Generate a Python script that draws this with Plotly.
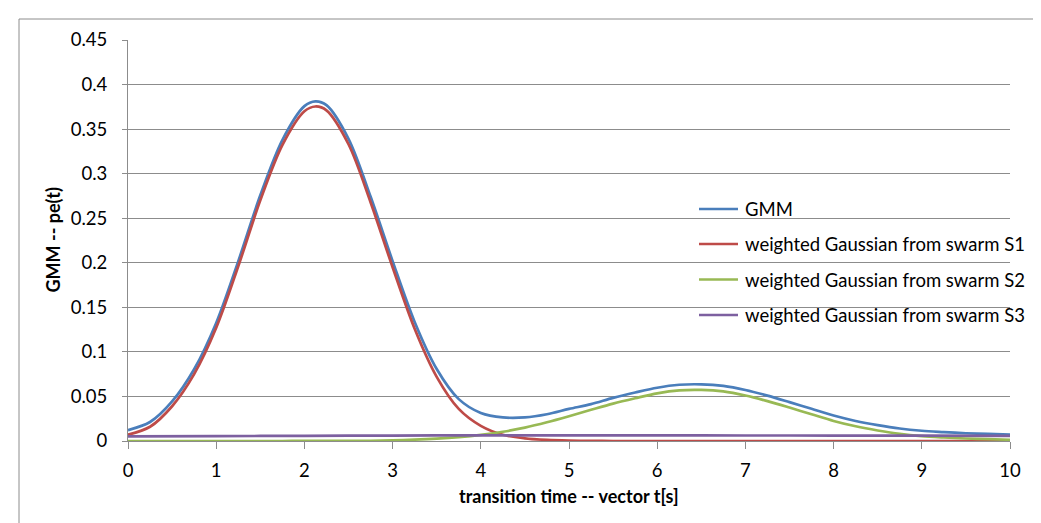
import plotly.graph_objects as go

# ---- data ----
t = [0, 0.25, 0.5, 0.75, 1, 1.25, 1.5, 1.75, 2, 2.125, 2.25, 2.5, 2.75, 3, 3.25, 3.5, 3.75,
     4, 4.25, 4.5, 4.75, 5, 5.25, 5.5, 5.75, 6, 6.25, 6.5, 6.75, 7, 7.25, 7.5, 7.75,
     8, 8.25, 8.5, 8.75, 9, 9.25, 9.5, 9.75, 10]

gmm = [0.0122, 0.0213, 0.0444, 0.0805, 0.1325, 0.2016, 0.2757, 0.3377, 0.3758, 0.3812, 0.3769,
       0.3391, 0.2743, 0.2019, 0.1336, 0.0808, 0.0470, 0.0315, 0.0265, 0.0265, 0.0300,
       0.0360, 0.0414, 0.0484, 0.0544, 0.0598, 0.0631, 0.0636, 0.0618, 0.0572, 0.0509,
       0.0436, 0.0361, 0.0286, 0.0225, 0.0178, 0.0140, 0.0115, 0.0100, 0.0087, 0.0079,
       0.0072]

s1 = [0.007, 0.016, 0.039, 0.075, 0.127, 0.196, 0.270, 0.332, 0.370, 0.3754, 0.371,
      0.333, 0.268, 0.195, 0.126, 0.072, 0.036, 0.017, 0.007, 0.003, 0.0012,
      0.0004, 0.0001, 0, 0, 0, 0, 0, 0, 0, 0,
      0, 0, 0, 0, 0, 0, 0, 0, 0, 0,
      0]

s2 = [0, 0, 0, 0, 0, 0, 0, 0, 0.0001, 0.0001, 0.0001,
      0.0002, 0.0003, 0.0008, 0.0015, 0.0026, 0.0043, 0.0068, 0.0104, 0.0150, 0.0210,
      0.0278, 0.0350, 0.0420, 0.0480, 0.0535, 0.0568, 0.0573, 0.0556, 0.0510, 0.0447,
      0.0375, 0.0300, 0.0225, 0.0165, 0.0118, 0.0080, 0.0055, 0.0040, 0.0028, 0.0020,
      0.0014]

t3 = [0, 1, 2, 3, 4, 5, 6, 7, 8, 9, 10]
s3 = [0.0052, 0.0055, 0.0058, 0.0061, 0.0063, 0.0064, 0.0063, 0.0062, 0.0061, 0.0060, 0.0058]

names = ["GMM", "weighted Gaussian from swarm S1",
         "weighted Gaussian from swarm S2", "weighted Gaussian from swarm S3"]
colors = ["#4A7EBB", "#BE4B48", "#98B954", "#7D60A0"]

x_ticks = [0, 1, 2, 3, 4, 5, 6, 7, 8, 9, 10]
y_ticks = [0, 0.05, 0.1, 0.15, 0.2, 0.25, 0.3, 0.35, 0.4, 0.45]
y_labels = ["0", "0.05", "0.1", "0.15", "0.2", "0.25", "0.3", "0.35", "0.4", "0.45"]

x_title = "transition time -- vector t[s]"
y_title = "GMM -- pe(t)"

FONT = "Lato, Calibri, Carlito, sans-serif"
FS = 18.5
GRID = "#8c8c8c"

# plot-area geometry in pixels (used only to place the hand-made legend and the frame)
L, R, T, B = 120, 1002, 32, 433
W, H = R - L, B - T


def px_x(p):
    return (p - L) / W


def px_y(p):
    return (B - p) / H


fig = go.Figure()
series = [(t, gmm), (t, s1), (t, s2), (t3, s3)]
for (xs, ys), nm, c in zip(series, names, colors):
    fig.add_trace(go.Scatter(
        x=xs, y=ys, name=nm, mode="lines",
        line=dict(color=c, width=2.7, shape="spline", smoothing=0.9),
        showlegend=False,
    ))

# legend drawn as in the reference (40px line samples, 35px row pitch)
legend_rows = [201, 236, 271.5, 307]
shapes = [
    dict(type="rect", xref="paper", yref="paper",
         x0=px_x(11), x1=px_x(1033), y0=px_y(521), y1=px_y(11),
         line=dict(color="#8c8c8c", width=1), fillcolor="rgba(0,0,0,0)",
         layer="below"),
]
annotations = [
    dict(text=f"<b>{x_title}</b>", xref="paper", yref="paper",
         x=0.5, y=px_y(488), xanchor="center", yanchor="middle",
         showarrow=False, font=dict(family=FONT, size=18)),
    dict(text=f"<b>{y_title}</b>", xref="paper", yref="paper",
         x=px_x(44), y=0.5, xanchor="center", yanchor="middle",
         textangle=-90, showarrow=False, font=dict(family=FONT, size=18)),
]
for row, nm, c in zip(legend_rows, names, colors):
    shapes.append(dict(type="line", xref="paper", yref="paper",
                       x0=px_x(691), x1=px_x(730), y0=px_y(row), y1=px_y(row),
                       line=dict(color=c, width=2.7)))
    annotations.append(dict(text=nm, xref="paper", yref="paper",
                            x=px_x(735), y=px_y(row), xanchor="left", yanchor="middle",
                            showarrow=False, font=dict(family=FONT, size=FS)))

fig.update_layout(
    width=1041, height=523,
    paper_bgcolor="white", plot_bgcolor="white",
    margin=dict(l=L, r=1041 - R, t=T, b=523 - B),
    font=dict(family=FONT, size=FS, color="#000000"),
    showlegend=False,
    xaxis=dict(
        range=[0, 10], tickmode="array", tickvals=x_ticks,
        ticktext=[str(v) for v in x_ticks],
        showgrid=False, zeroline=False,
        showline=True, linecolor=GRID, linewidth=1,
        ticks="outside", ticklen=7, tickcolor=GRID, tickwidth=1,
        tickfont=dict(family=FONT, size=FS),
        ticklabelstandoff=6,
    ),
    yaxis=dict(
        range=[0, 0.45], tickmode="array", tickvals=y_ticks, ticktext=y_labels,
        showgrid=True, gridcolor=GRID, gridwidth=1, zeroline=False,
        showline=True, linecolor=GRID, linewidth=1,
        ticks="outside", ticklen=5, tickcolor=GRID, tickwidth=1,
        tickfont=dict(family=FONT, size=FS),
        ticklabelstandoff=11,
    ),
    annotations=annotations,
    shapes=shapes,
)

fig.write_html("out.html")
